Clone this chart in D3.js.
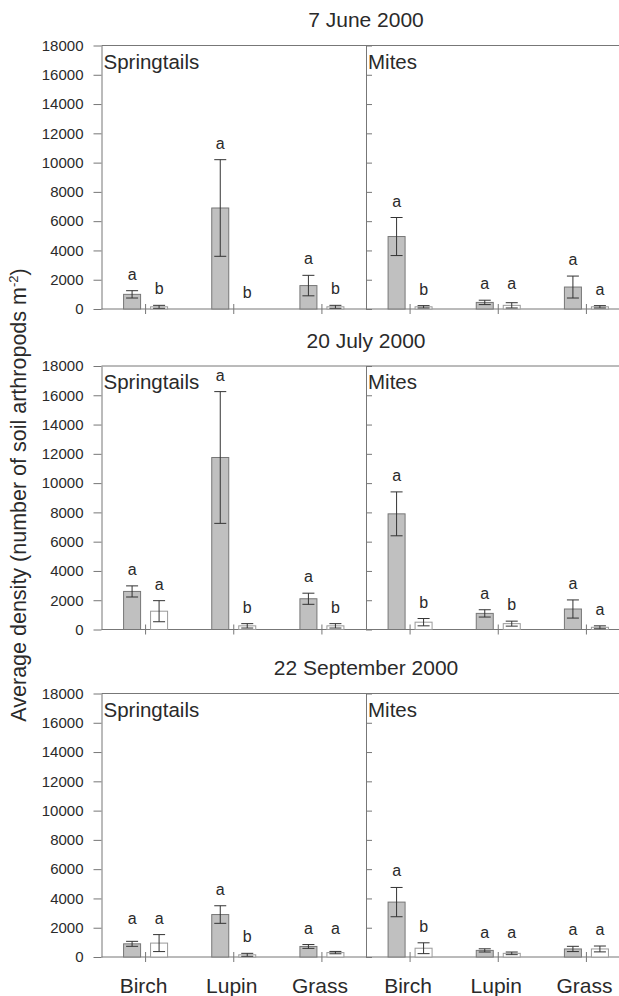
<!DOCTYPE html>
<html>
<head>
<meta charset="utf-8">
<script src="https://cdn.jsdelivr.net/npm/d3@7"></script>
<style>
  html, body { margin: 0; padding: 0; background: #fff; }
  svg { display: block; font-family: "Liberation Sans", Arial, sans-serif; }
</style>
</head>
<body>
<svg id="chart" width="619" height="996"></svg>
<script>
// ---------------------------------------------------------------------------
// Data
// ---------------------------------------------------------------------------
const dates      = ["7 June 2000", "20 July 2000", "22 September 2000"];
const groups     = ["Springtails", "Mites"];
const categories = ["Birch", "Lupin", "Grass"];
const series     = ["shaded", "open"];
const yTicks     = [0, 2000, 4000, 6000, 8000, 10000, 12000, 14000, 16000, 18000];

// means: one value per category
const juneSpringShaded = [1000, 6900, 1600];
const juneSpringOpen   = [150, 0, 150];
const juneMitesShaded  = [4950, 450, 1500];
const juneMitesOpen    = [150, 250, 150];

const julySpringShaded = [2600, 11750, 2100];
const julySpringOpen   = [1250, 250, 250];
const julyMitesShaded  = [7900, 1100, 1400];
const julyMitesOpen    = [500, 400, 150];

const septSpringShaded = [900, 2900, 720];
const septSpringOpen   = [950, 150, 300];
const septMitesShaded  = [3750, 450, 550];
const septMitesOpen    = [600, 250, 550];

// error bar half-widths, same layout
const juneSpringShadedErr = [250, 3300, 700];
const juneSpringOpenErr   = [100, 0, 100];
const juneMitesShadedErr  = [1300, 150, 750];
const juneMitesOpenErr    = [80, 180, 80];

const julySpringShadedErr = [380, 4500, 380];
const julySpringOpenErr   = [720, 150, 150];
const julyMitesShadedErr  = [1500, 250, 620];
const julyMitesOpenErr    = [250, 170, 100];

const septSpringShadedErr = [170, 600, 130];
const septSpringOpenErr   = [580, 100, 80];
const septMitesShadedErr  = [1000, 110, 180];
const septMitesOpenErr    = [370, 90, 200];

// significance letters, [shaded, open] per category
const juneSpringLetters = [["a", "b"], ["a", "b"], ["a", "b"]];
const juneMitesLetters  = [["a", "b"], ["a", "a"], ["a", "a"]];
const julySpringLetters = [["a", "a"], ["a", "b"], ["a", "b"]];
const julyMitesLetters  = [["a", "b"], ["a", "b"], ["a", "a"]];
const septSpringLetters = [["a", "a"], ["a", "b"], ["a", "a"]];
const septMitesLetters  = [["a", "b"], ["a", "a"], ["a", "a"]];

const means = [
  [[juneSpringShaded, juneSpringOpen], [juneMitesShaded, juneMitesOpen]],
  [[julySpringShaded, julySpringOpen], [julyMitesShaded, julyMitesOpen]],
  [[septSpringShaded, septSpringOpen], [septMitesShaded, septMitesOpen]],
];
const errs = [
  [[juneSpringShadedErr, juneSpringOpenErr], [juneMitesShadedErr, juneMitesOpenErr]],
  [[julySpringShadedErr, julySpringOpenErr], [julyMitesShadedErr, julyMitesOpenErr]],
  [[septSpringShadedErr, septSpringOpenErr], [septMitesShadedErr, septMitesOpenErr]],
];
const letters = [
  [juneSpringLetters, juneMitesLetters],
  [julySpringLetters, julyMitesLetters],
  [septSpringLetters, septMitesLetters],
];

// ---------------------------------------------------------------------------
// Layout
// ---------------------------------------------------------------------------
const W = 619;
const AXIS_X = 101.5;          // left y axis
const PANEL_W = 264.5;         // width of one group panel
const PANEL_H = 263.5;
const PANEL_TOPS = [45.5, 366, 693.5];
const AXIS_COL = "#777";
const TEXT_COL = "#2a2a2a";

const svg = d3.select("#chart");

// sub-band for the two bars around a category centre
const sub = d3.scaleBand().domain(series).range([-22, 22]).paddingInner(0.37);

dates.forEach((date, di) => {
  const top = PANEL_TOPS[di];
  const y = d3.scaleLinear().domain([0, 18000]).range([top + PANEL_H, top]);
  const base = y(0);
  const g = svg.append("g");

  // title centred on the divider
  g.append("text")
    .attr("x", AXIS_X + PANEL_W).attr("y", top - 18.5)
    .attr("text-anchor", "middle")
    .attr("font-size", 21).attr("fill", TEXT_COL)
    .text(date);

  // left axis with labels
  const ax = g.append("g")
    .attr("transform", `translate(${AXIS_X},0)`)
    .call(d3.axisLeft(y).tickValues(yTicks).tickFormat(d3.format("d"))
      .tickSize(8).tickPadding(10).tickSizeOuter(0));
  ax.select(".domain").attr("stroke", AXIS_COL);
  ax.selectAll(".tick line").attr("stroke", AXIS_COL);
  ax.selectAll(".tick text")
    .attr("font-size", 15).attr("fill", TEXT_COL)
    .attr("font-family", "Liberation Sans, Arial, sans-serif");

  // divider axis, ticks pointing into the Mites panel
  const dv = g.append("g")
    .attr("transform", `translate(${AXIS_X + PANEL_W},0)`)
    .call(d3.axisRight(y).tickValues(yTicks).tickSize(6).tickFormat("").tickSizeOuter(0));
  dv.select(".domain").attr("stroke", AXIS_COL);
  dv.selectAll(".tick line").attr("stroke", AXIS_COL);

  // top frame and baseline
  [top, base].forEach(yy => {
    g.append("line")
      .attr("x1", AXIS_X).attr("x2", W + 20)
      .attr("y1", yy).attr("y2", yy)
      .attr("stroke", AXIS_COL);
  });

  groups.forEach((grp, gi) => {
    const x0 = AXIS_X + gi * PANEL_W;
    const x = d3.scaleBand().domain(categories).range([x0, x0 + PANEL_W]);
    const cx = c => x(c) + x.bandwidth() / 2;

    // group label
    g.append("text")
      .attr("x", x0 + 2).attr("y", top + 23)
      .attr("font-size", 20.5).attr("fill", TEXT_COL)
      .text(grp);

    // category ticks crossing the baseline
    g.selectAll(null).data(categories).join("line")
      .attr("x1", cx).attr("x2", cx)
      .attr("y1", base - 5).attr("y2", base + 5)
      .attr("stroke", AXIS_COL);

    // category labels on the bottom panel only
    if (di === dates.length - 1) {
      g.selectAll(null).data(categories).join("text")
        .attr("x", c => cx(c) - 2).attr("y", base + 36)
        .attr("text-anchor", "middle")
        .attr("font-size", 21).attr("fill", TEXT_COL)
        .text(c => c);
    }

    const rows = [];
    categories.forEach((c, ci) => {
      series.forEach((s, si) => {
        const v = means[di][gi][si][ci], e = errs[di][gi][si][ci];
        rows.push({ c, s, v, e, letter: letters[di][gi][ci][si] });
      });
    });

    // bars
    g.selectAll(null).data(rows.filter(d => d.v > 0)).join("rect")
      .attr("x", d => cx(d.c) + sub(d.s))
      .attr("y", d => y(d.v))
      .attr("width", sub.bandwidth())
      .attr("height", d => base - y(d.v))
      .attr("fill", d => d.s === "shaded" ? "#c0c0c0" : "#fff")
      .attr("stroke", d => d.s === "shaded" ? "#777" : "#9a9a9a")
      .attr("stroke-width", 1);

    // error bars
    const eb = g.selectAll(null).data(rows.filter(d => d.e > 0)).join("g")
      .attr("transform", d => `translate(${cx(d.c) + sub(d.s) + sub.bandwidth() / 2},0)`)
      .attr("stroke", "#333").attr("stroke-width", 1);
    eb.append("line").attr("y1", d => y(d.v + d.e)).attr("y2", d => y(Math.max(0, d.v - d.e)));
    eb.append("line").attr("x1", -6).attr("x2", 6)
      .attr("y1", d => y(d.v + d.e)).attr("y2", d => y(d.v + d.e));
    eb.append("line").attr("x1", -6).attr("x2", 6)
      .attr("y1", d => y(Math.max(0, d.v - d.e))).attr("y2", d => y(Math.max(0, d.v - d.e)));

    // letters: sit above the error bar; pairs at nearly the same height are aligned
    categories.forEach(c => {
      const pair = rows.filter(d => d.c === c);
      const tops = pair.map(d => y(d.v + d.e));
      const close = Math.abs(tops[0] - tops[1]) < 10;
      pair.forEach((d, k) => {
        const ty = (close ? Math.min(...tops) : tops[k]) - 11;
        g.append("text")
          .attr("x", cx(c) + sub(d.s) + sub.bandwidth() / 2)
          .attr("y", ty)
          .attr("text-anchor", "middle")
          .attr("font-size", 16).attr("fill", TEXT_COL)
          .text(d.letter);
      });
    });
  });
});

// shared y axis label
const yl = svg.append("text")
  .attr("transform", "translate(26,495) rotate(-90)")
  .attr("text-anchor", "middle")
  .attr("font-size", 21.5).attr("fill", TEXT_COL);
yl.append("tspan").text("Average density (number of soil arthropods m");
yl.append("tspan").attr("dy", -8).attr("font-size", 13).text("-2");
yl.append("tspan").attr("dy", 8).text(")");
</script>
</body>
</html>
